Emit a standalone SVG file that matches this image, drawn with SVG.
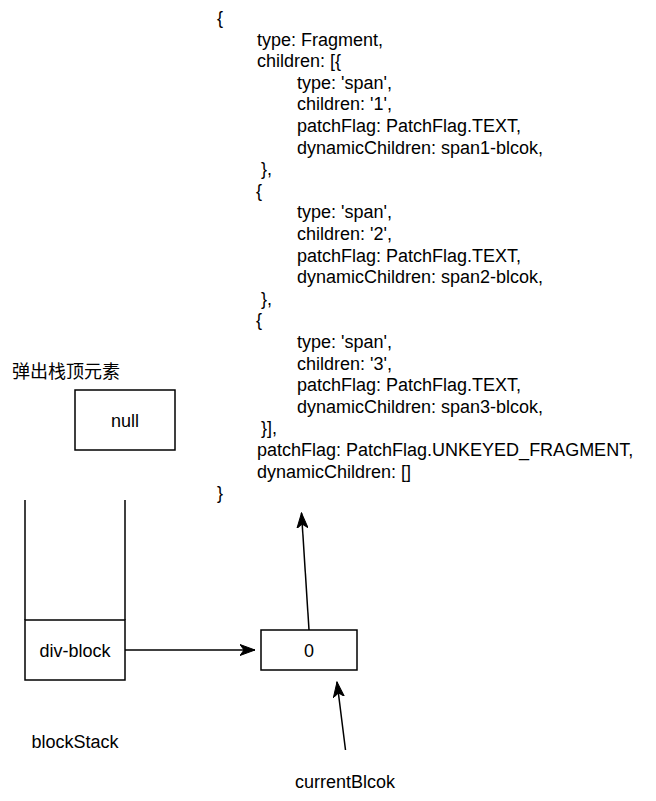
<svg xmlns="http://www.w3.org/2000/svg" width="656" height="801" viewBox="0 0 656 801">
<style>
text{font-family:"Liberation Sans",Arial,"Noto Sans CJK SC",sans-serif;font-size:18px;fill:#000}
.c{text-anchor:middle}
.box{fill:#fff;stroke:#000;stroke-width:1.5}
.ln{fill:none;stroke:#000;stroke-width:1.5}
</style>
<defs>
<marker id="arr" markerUnits="userSpaceOnUse" markerWidth="16" markerHeight="12" viewBox="0 0 16 12" refX="15" refY="6" orient="auto">
<path d="M0,0.5 L15,6 L0,11.5 L4,6 Z" fill="#000" stroke="#000" stroke-width="1"/>
</marker>
</defs>
<rect width="656" height="801" fill="#fff"/>
<g id="code" transform="translate(0,-2)">
<text x="217" y="26">{</text>
<text x="257" y="47.6">type: Fragment,</text>
<text x="257" y="69.2">children: [{</text>
<text x="297" y="90.8">type: 'span',</text>
<text x="297" y="112.4">children: '1',</text>
<text x="297" y="134">patchFlag: PatchFlag.TEXT,</text>
<text x="297" y="155.6">dynamicChildren: span1-blcok,</text>
<text x="261" y="177.2">},</text>
<text x="256" y="198.8">{</text>
<text x="297" y="220.4">type: 'span',</text>
<text x="297" y="242">children: '2',</text>
<text x="297" y="263.6">patchFlag: PatchFlag.TEXT,</text>
<text x="297" y="285.2">dynamicChildren: span2-blcok,</text>
<text x="261" y="306.8">},</text>
<text x="256" y="328.4">{</text>
<text x="297" y="350">type: 'span',</text>
<text x="297" y="371.6">children: '3',</text>
<text x="297" y="393.2">patchFlag: PatchFlag.TEXT,</text>
<text x="297" y="414.8">dynamicChildren: span3-blcok,</text>
<text x="261" y="436.4">}],</text>
<text x="257" y="458">patchFlag: PatchFlag.UNKEYED_FRAGMENT,</text>
<text x="257" y="479.6">dynamicChildren: []</text>
<text x="217" y="501.2">}</text>
</g>
<g id="pop-label">
<text x="12" y="378">弹出栈顶元素</text>
</g>
<g id="null">
<rect class="box" x="75" y="390" width="100" height="60"/>
<text class="c" x="125" y="427">null</text>
</g>
<g id="blockStack">
<line class="ln" x1="25" y1="500" x2="25" y2="620"/>
<line class="ln" x1="125" y1="500" x2="125" y2="620"/>
<text class="c" x="75" y="748">blockStack</text>
</g>
<g id="div-block">
<rect class="box" x="25" y="620" width="100" height="60"/>
<text class="c" x="75" y="657">div-block</text>
</g>
<g id="zero">
<rect class="box" x="261" y="630" width="96" height="40"/>
<text class="c" x="309" y="657">0</text>
</g>
<g id="currentBlcok">
<text class="c" x="345" y="788">currentBlcok</text>
</g>
<g id="connectors">
<line class="ln" x1="125" y1="650" x2="255" y2="650" marker-end="url(#arr)"/>
<line class="ln" x1="309" y1="630" x2="301.5" y2="513" marker-end="url(#arr)"/>
<line class="ln" x1="345.5" y1="750" x2="337" y2="682" marker-end="url(#arr)"/>
</g>
</svg>
